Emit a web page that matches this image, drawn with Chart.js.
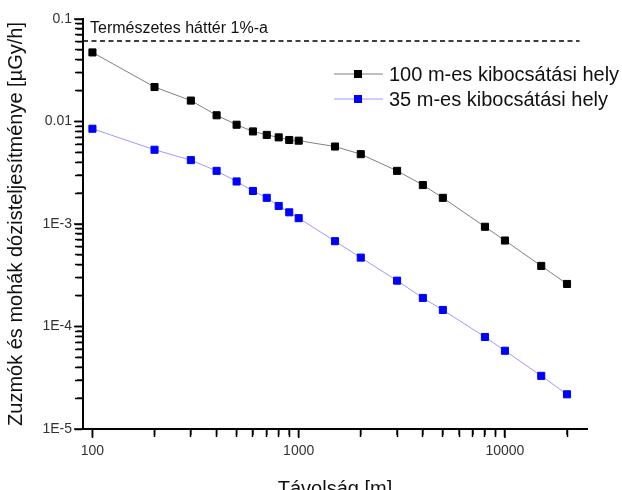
<!DOCTYPE html>
<html>
<head>
<meta charset="utf-8">
<script src="https://cdn.jsdelivr.net/npm/chart.js@4"></script>
<style>
  body { margin: 0; background: #fff; }
  #wrap { position: relative; width: 622px; height: 490px; }
  #tickLayer { position: absolute; left: 0; top: 0; pointer-events: none; }
</style>
</head>
<body>
<div id="wrap">
  <canvas id="doseChart" width="622" height="490"></canvas>
  <canvas id="tickLayer" width="622" height="490"></canvas>
</div>
<script>
// distances [m]
var distances = [100, 200, 300, 400, 500, 600, 700, 800, 900, 1000, 1500, 2000, 3000, 4000, 5000, 8000, 10000, 15000, 20000];
// dose rate [uGy/h], 100 m release height
var dose100 = [0.0472, 0.0217, 0.0160, 0.0115, 0.0093, 0.0080, 0.0074, 0.0070, 0.0066, 0.0065, 0.0057, 0.0048, 0.0033, 0.0024, 0.0018, 0.00094, 0.00069, 0.00039, 0.00026];
// dose rate [uGy/h], 35 m release height
var dose35 = [0.0085, 0.0053, 0.0042, 0.0033, 0.0026, 0.0021, 0.0018, 0.0015, 0.0013, 0.00114, 0.00068, 0.00047, 0.00028, 0.00019, 0.000145, 0.000079, 0.000058, 0.000033, 0.0000218];

var seriesNames = ['100 m-es kibocsátási hely', '35 m-es kibocsátási hely'];

// natural background 1%
var backgroundLevel = 0.061;
var backgroundRange = [90, 23000];
var backgroundLabel = 'Természetes háttér 1%-a';

// labelled ticks
var xLabelValues = [100, 1000, 10000];
var xTickLabels = ['100', '1000', '10000'];
var yLabelValues = [1e-5, 1e-4, 1e-3, 0.01, 0.1];
var yTickLabels = ['1E-5', '1E-4', '1E-3', '0.01', '0.1'];

var xMin = 90, xMax = 25000;
var yMin = 1e-5, yMax = 0.1;

var FONT = 'Arial, "Liberation Sans", sans-serif';

// 1..9 ticks in every decade
function decadeTicks(min, max) {
  var out = [];
  for (var e = Math.floor(Math.log10(min)); e <= Math.ceil(Math.log10(max)); e++) {
    for (var m = 1; m <= 9; m++) {
      var v = Number((m * Math.pow(10, e)).toPrecision(6));
      if (v >= min * 0.999999 && v <= max * 1.000001) out.push(v);
    }
  }
  return out;
}
var xTickValues = decadeTicks(100, xMax);
var yTickValues = decadeTicks(yMin, yMax);

function isDecade(v) {
  var l = Math.log10(v);
  return Math.abs(l - Math.round(l)) < 1e-9;
}
function findLabel(v, values, labels) {
  for (var i = 0; i < values.length; i++) {
    if (Math.abs(values[i] - v) / values[i] < 1e-6) return labels[i];
  }
  return '';
}
function setTicks(values) {
  return function(s) {
    s.ticks = values.map(function(v) { return {value: v, major: isDecade(v)}; });
  };
}

function toPoints(xs, ys) {
  var pts = [];
  for (var i = 0; i < xs.length; i++) pts.push({x: xs[i], y: ys[i]});
  return pts;
}

// short minor ticks, drawn on a layer above the chart canvas
var minorTicks = {
  id: 'minorTicks',
  afterRender: function(chart) {
    var layer = document.getElementById('tickLayer');
    var ctx = layer.getContext('2d');
    var area = chart.chartArea;
    var xs = chart.scales.x, ys = chart.scales.y;
    ctx.clearRect(0, 0, layer.width, layer.height);
    ctx.fillStyle = '#000';
    xTickValues.forEach(function(v) {
      var len = isDecade(v) ? 8 : 5;
      ctx.fillRect(xs.getPixelForValue(v) - 0.75, area.bottom, 1.5, len + 1);
    });
    yTickValues.forEach(function(v) {
      var len = isDecade(v) ? 8 : 5;
      ctx.fillRect(area.left - len - 1, ys.getPixelForValue(v) - 0.75, len + 1, 1.5);
    });
  }
};

// background label and legend
var annotations = {
  id: 'annotations',
  afterDraw: function(chart) {
    var ctx = chart.ctx;
    var xs = chart.scales.x, ys = chart.scales.y;
    ctx.save();
    ctx.fillStyle = '#111';
    ctx.font = '16px ' + FONT;
    ctx.textBaseline = 'alphabetic';
    ctx.textAlign = 'left';
    ctx.fillText(backgroundLabel, xs.getPixelForValue(backgroundRange[0]) + 7, ys.getPixelForValue(backgroundLevel) - 8);

    // legend
    var lx = 334, ly = 74, rowH = 25;
    ctx.font = '20px ' + FONT;
    ctx.textBaseline = 'middle';
    for (var i = 0; i < 2; i++) {
      var ds = chart.data.datasets[i];
      var y = ly + i * rowH;
      ctx.strokeStyle = ds.borderColor;
      ctx.lineWidth = 1;
      ctx.beginPath();
      ctx.moveTo(lx, y);
      ctx.lineTo(lx + 49, y);
      ctx.stroke();
      ctx.fillStyle = ds.pointBackgroundColor;
      ctx.fillRect(lx + 20, y - 4, 8, 8);
      ctx.fillStyle = '#111';
      ctx.fillText(ds.label, lx + 55, y + 1);
    }
    ctx.restore();
  }
};

var tickGrid = {
  display: true,
  drawOnChartArea: false,
  drawTicks: true,
  tickLength: 8,
  tickWidth: 1.5,
  tickColor: '#000'
};

new Chart(document.getElementById('doseChart').getContext('2d'), {
  type: 'line',
  data: {
    datasets: [
      {
        label: seriesNames[0],
        data: toPoints(distances, dose100),
        borderColor: '#808080',
        borderWidth: 1,
        pointStyle: 'rect',
        pointRadius: 5,
        pointBorderWidth: 1,
        pointBackgroundColor: '#000000',
        pointBorderColor: '#000000'
      },
      {
        label: seriesNames[1],
        data: toPoints(distances, dose35),
        borderColor: '#9a9aff',
        borderWidth: 1,
        pointStyle: 'rect',
        pointRadius: 5,
        pointBorderWidth: 1,
        pointBackgroundColor: '#0000ff',
        pointBorderColor: '#0000ff'
      },
      {
        label: 'hatter',
        data: toPoints(backgroundRange, [backgroundLevel, backgroundLevel]),
        borderColor: '#000',
        borderWidth: 1.3,
        borderDash: [5, 3.5],
        pointRadius: 0
      }
    ]
  },
  options: {
    responsive: false,
    animation: false,
    layout: { padding: { left: 0, right: 35, top: 19, bottom: 0 } },
    plugins: {
      legend: { display: false },
      tooltip: { enabled: false }
    },
    scales: {
      x: {
        type: 'logarithmic',
        min: xMin,
        max: xMax,
        afterBuildTicks: setTicks(xTickValues),
        afterFit: function(s) { s.height = 61; },
        grid: tickGrid,
        border: { display: true, color: '#000', width: 2 },
        ticks: {
          autoSkip: false,
          source: 'data',
          maxRotation: 0,
          padding: 6,
          color: '#333',
          font: { family: FONT, size: 14 },
          callback: function(v) { return findLabel(v, xLabelValues, xTickLabels); }
        },
        title: {
          display: true,
          text: 'Távolság [m]',
          color: '#111',
          font: { family: FONT, size: 20 },
          padding: { top: 0, bottom: -11 }
        }
      },
      y: {
        type: 'logarithmic',
        min: yMin,
        max: yMax,
        afterBuildTicks: setTicks(yTickValues),
        afterFit: function(s) { s.width = 83; },
        grid: tickGrid,
        border: { display: true, color: '#000', width: 2 },
        ticks: {
          autoSkip: false,
          source: 'data',
          padding: 3,
          color: '#333',
          font: { family: FONT, size: 14 },
          callback: function(v) { return findLabel(v, yLabelValues, yTickLabels); }
        },
        title: {
          display: true,
          text: 'Zuzmók és mohák dózisteljesítménye [µGy/h]',
          color: '#111',
          font: { family: FONT, size: 20 },
          padding: { top: 4, bottom: 0 }
        }
      }
    }
  },
  plugins: [minorTicks, annotations]
});
</script>
</body>
</html>
